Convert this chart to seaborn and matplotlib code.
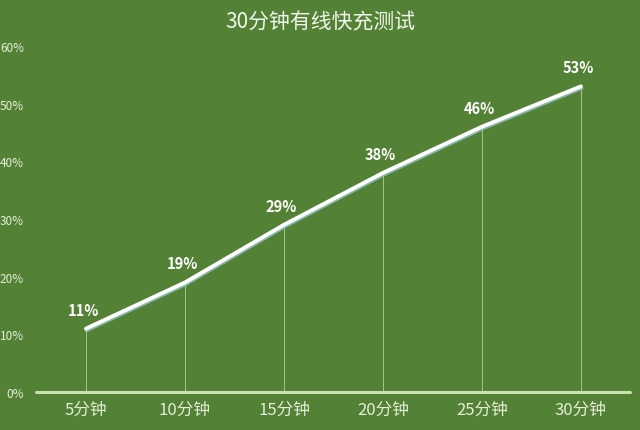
import matplotlib
matplotlib.use("Agg")
import matplotlib.pyplot as plt
import matplotlib.patheffects as pe
import seaborn as sns
import pandas as pd

categories = ["5分钟", "10分钟", "15分钟", "20分钟", "25分钟", "30分钟"]
values = [11, 19, 29, 38, 46, 53]
y_ticks = [0, 10, 20, 30, 40, 50, 60]
title = "30分钟有线快充测试"

sns.set_theme(style="white")
plt.rcParams['font.family'] = ['Noto Sans CJK SC', 'DejaVu Sans']

bg = "#538135"
fig = plt.figure(figsize=(6.4, 4.31), dpi=100, facecolor=bg)
ax = fig.add_axes([0.057, 0.088, 0.928, 0.803])
ax.set_facecolor(bg)

df = pd.DataFrame({"cat": categories, "val": values})
x = list(range(len(categories)))
df["x"] = x

# drop lines
ax.vlines(df["x"], 0, df["val"], color="#b4d29c", linewidth=0.7, alpha=0.85)

sns.lineplot(data=df, x="x", y="val", ax=ax, color="white", linewidth=2.8,
             path_effects=[pe.SimpleLineShadow(offset=(0.4, -1.2), shadow_color="#8fbfb8", alpha=0.9), pe.Normal()])

for xi, v in zip(x, values):
    ax.annotate(f"{v}%", (xi, v), xytext=(-2, 8), textcoords="offset points",
                ha="center", va="bottom", color="white", fontsize=10.5, fontweight="bold")

ax.axhline(0, color="#c8e2b2", linewidth=2.2, clip_on=False)
ax.set_xlim(-0.5, len(categories) - 0.5)
ax.set_ylim(0, 60)
ax.set_xticks(x)
ax.set_xticklabels(categories, color="#e4eed8", fontsize=12)
ax.set_yticks(y_ticks)
ax.set_yticklabels([f"{t}%" for t in y_ticks], color="#e4eed8", fontsize=8.5)
ax.tick_params(axis="y", length=0, pad=9)
ax.tick_params(axis="x", length=0, pad=6)
ax.set_xlabel("")
ax.set_ylabel("")
for s in ax.spines.values():
    s.set_visible(False)
ax.grid(False)

fig.text(0.5, 0.948, title, ha="center", va="center", color="#f0f5ea", fontsize=15)

fig.savefig("out.png", dpi=100, facecolor=bg)
